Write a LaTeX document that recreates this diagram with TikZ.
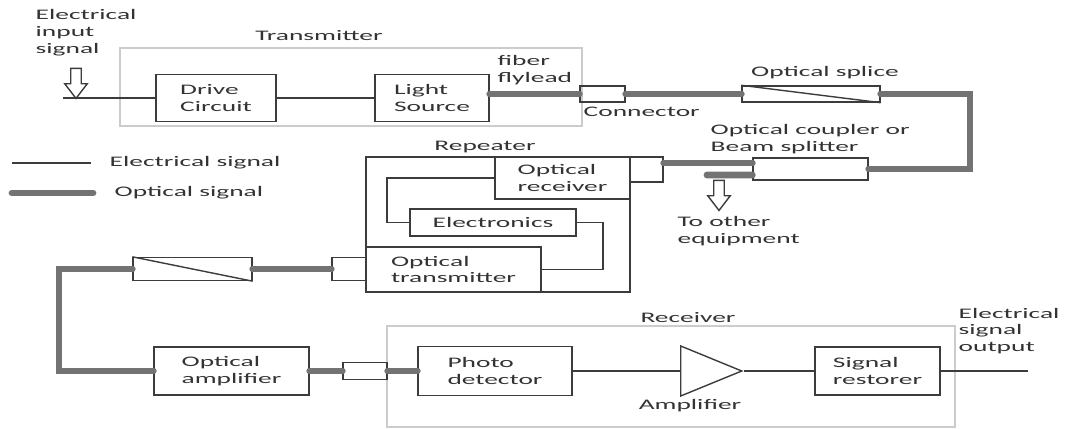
\documentclass[tikz,border=0pt]{standalone}
\usepackage{fontspec}
\setmainfont{Carlito}[FakeStretch=1.88]
\usetikzlibrary{positioning, shapes.geometric, shapes.arrows}
\definecolor{cdark}{HTML}{3C3C3C}
\definecolor{cfibre}{HTML}{737373}
\definecolor{cframe}{HTML}{CCCCCC}
\definecolor{ctext}{HTML}{333333}
\tikzset{
  every picture/.style={font=\fontsize{8.3}{9.6}\selectfont, line width=0.8pt},
  box/.style={draw=cdark, text=ctext, align=left, inner sep=0pt},
  port/.style={draw=cdark, inner sep=0pt},
  group/.style={draw=cframe, inner sep=0pt},
  optical/.style={draw=cfibre, line width=3.9pt, line cap=round},
  wire/.style={draw=cdark, line width=0.8pt},
  hollow/.style={single arrow, draw=cdark, fill=white, shape border rotate=270, minimum height=0.6cm, inner sep=2.6pt, single arrow head extend=0.12cm, single arrow tip angle=75},
  lab/.style={text=ctext, align=left, inner sep=0pt},
}

\begin{document}
\begin{tikzpicture}
  \useasboundingbox (0,0) rectangle (21.30,-8.58);
  % frames
  \node[group, minimum width=9.24cm, minimum height=1.56cm] (tx) at (7.02,-1.74) {};
  \node[group, minimum width=11.36cm, minimum height=2.02cm] (rx) at (13.42,-7.53) {};
  \node[port, minimum width=5.28cm, minimum height=2.70cm] (rep) at (9.96,-4.49) {};
  \node[lab] at (6.38,-0.72) {Transmitter};
  \node[lab] at (13.76,-6.36) {Receiver};
  \node[lab] at (9.70,-2.94) {Repeater};
  % transmitter
  \node[box, minimum width=2.40cm, minimum height=0.94cm] (drive) at (4.32,-1.96) {Drive\\Circuit};
  \node[box, minimum width=2.28cm, minimum height=0.94cm] (light) at (8.64,-1.96) {Light\\Source};
  \coordinate (in) at (1.26,-1.96);
  \node[hollow] (inarrow) at (1.52,-1.60) {};
  \node[lab, anchor=west] at (0.70,-0.66) {Electrical\\input\\signal};
  \node[lab, anchor=west] at (9.94,-1.41) {fiber\\flylead};
  % line to the splitter
  \node[port, minimum width=0.90cm, minimum height=0.32cm] (conn1) at (12.05,-1.88) {};
  \node[port, minimum width=2.76cm, minimum height=0.32cm] (splice1) at (16.22,-1.88) {};
  \draw[wire] (splice1.north west) -- (splice1.south east);
  \node[lab, anchor=west] at (11.66,-2.24) {Connector};
  \node[lab] at (16.50,-1.46) {Optical splice};
  \coordinate (rloop) at (19.40,-1.88);
  \node[port, minimum width=2.30cm, minimum height=0.44cm] (coupler) at (16.21,-3.38) {};
  \node[lab, anchor=west] at (14.20,-2.78) {Optical coupler or\\Beam splitter};
  \coordinate (tap) at (14.14,-3.50);
  \node[hollow] (tapout) at (14.38,-3.84) {};
  \node[lab, anchor=west] at (13.54,-4.62) {To other\\equipment};
  % repeater
  \node[box, minimum width=2.70cm, minimum height=0.84cm] (orx) at (11.25,-3.56) {Optical\\receiver};
  \node[port, minimum width=0.66cm, minimum height=0.50cm] (rxport) at (12.93,-3.39) {};
  \node[box, minimum width=3.32cm, minimum height=0.54cm] (elec) at (9.86,-4.45) {Electronics};
  \node[box, minimum width=3.50cm, minimum height=0.90cm] (otx) at (9.07,-5.39) {Optical\\transmitter};
  \node[port, minimum width=0.68cm, minimum height=0.46cm] (txport) at (6.98,-5.38) {};
  \coordinate (wl) at (7.74,-4.00);
  \coordinate (wr) at (12.06,-4.90);
  % back to the receiver
  \node[port, minimum width=2.38cm, minimum height=0.46cm] (splice2) at (3.85,-5.38) {};
  \draw[wire] (splice2.north west) -- (splice2.south east);
  \coordinate (lloop) at (1.18,-5.38);
  \node[box, minimum width=3.10cm, minimum height=0.96cm] (amp) at (4.63,-7.42) {Optical\\amplifier};
  \node[port, minimum width=0.88cm, minimum height=0.34cm] (conn2) at (7.30,-7.42) {};
  % receiver
  \node[box, minimum width=3.08cm, minimum height=0.98cm] (pd) at (9.90,-7.42) {Photo\\detector};
  \node[isosceles triangle, isosceles triangle stretches, draw=cdark, minimum width=1.0cm, minimum height=1.22cm, inner sep=0pt] (ampl) at (13.95,-7.42) {};
  \node[lab] at (13.80,-8.12) {Amplifier};
  \node[box, minimum width=2.50cm, minimum height=0.96cm] (sr) at (17.55,-7.42) {Signal\\restorer};
  \coordinate (out) at (20.56,-7.42);
  \node[lab, anchor=west] at (19.16,-6.62) {Electrical\\signal\\output};
  % legend
  \coordinate (legE1) at (0.24,-3.26);
  \coordinate (legE2) at (1.82,-3.26);
  \coordinate (legO1) at (0.24,-3.86);
  \coordinate (legO2) at (1.86,-3.86);
  \draw[wire] (legE1) -- (legE2);
  \draw[optical] (legO1) -- (legO2);
  \node[lab, anchor=west] at (2.18,-3.26) {Electrical signal};
  \node[lab, anchor=west] at (2.28,-3.86) {Optical signal};
  % electrical signal
  \draw[wire] (in) -- (drive);
  \draw[wire] (drive) -- (light);
  \draw[wire] (orx.west) -| (wl) |- (elec.west);
  \draw[wire] (elec.east) -| (wr) |- (otx.east);
  \draw[wire] (pd) -- (ampl);
  \draw[wire] (ampl.apex) -- (sr);
  \draw[wire] (sr) -- (out);
  % optical signal
  \draw[optical] (light.east |- conn1) -- (conn1);
  \draw[optical] (conn1) -- (splice1);
  \draw[optical] (splice1) -- (rloop) |- (coupler);
  \draw[optical] ([yshift=1.2mm]coupler.west) -- ([yshift=1.2mm]coupler.west -| rxport.east);
  \draw[optical] ([yshift=-1.2mm]coupler.west) -- (tap);
  \draw[optical] (txport) -- (splice2);
  \draw[optical] (splice2) -- (lloop) |- (amp);
  \draw[optical] (amp) -- (conn2);
  \draw[optical] (conn2) -- (pd);
\end{tikzpicture}
\end{document}
